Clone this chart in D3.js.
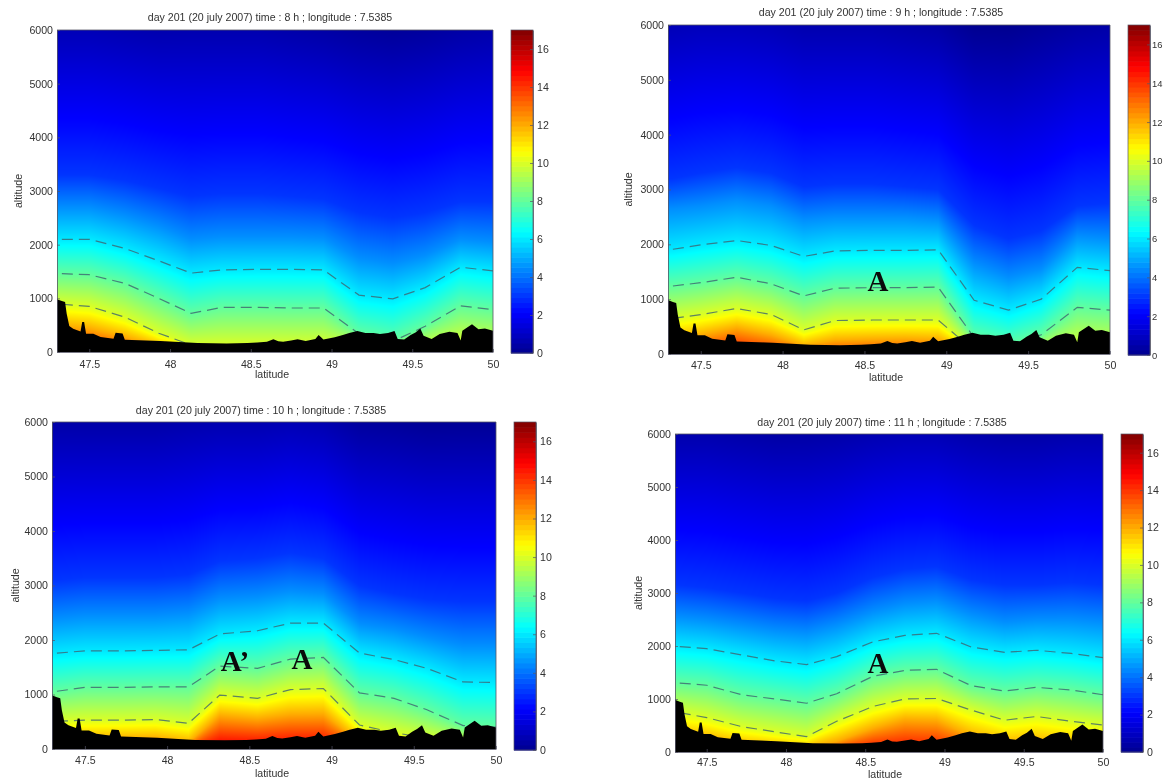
<!DOCTYPE html>
<html><head><meta charset="utf-8">
<script src="https://cdnjs.cloudflare.com/ajax/libs/d3/7.8.5/d3.min.js"></script>
<style>
html,body{margin:0;padding:0;background:#fff;overflow:hidden}
svg{display:block;filter:blur(0.5px)}
text{font-family:"Liberation Sans",Arial,sans-serif;fill:#333}
.note{font-family:"Liberation Serif","Times New Roman",serif;font-weight:bold;fill:#0a0a0a}
</style></head><body>
<div id="chart"></div>
<script>
// Values
const latTicks=[47.5,48,48.5,49,49.5,50];
const altTicks=[0,1000,2000,3000,4000,5000,6000];
const barTicks=[0,2,4,6,8,10,12,14,16];
const isoLevels=[14,12,10,8,6,4.5,3,1];
const contourLevels=[10,8,6];
const latNodes=[47.33,47.5,47.72,47.93,48.13,48.32,48.55,48.75,48.95,49.17,49.38,49.58,49.8,50];

// altitude of each value level at each latitude node
const hour8=[
 [150,100,30,0,0,0,0,0,0,0,0,0,0,0],
 [480,440,280,100,60,60,60,60,60,40,20,40,60,40],
 [890,850,650,350,130,130,130,130,130,100,50,100,150,100],
 [1460,1440,1280,1000,720,830,830,820,820,340,200,480,860,790],
 [2100,2100,1930,1700,1470,1530,1540,1540,1530,1060,990,1200,1580,1510],
 [2700,2700,2550,2350,2100,2150,2150,2150,2120,1750,1650,1800,2100,2050],
 [3300,3300,3200,3050,2900,2950,2950,2900,2850,2600,2500,2600,2800,2800],
 [5700,5700,5600,5500,5500,5500,5500,5400,5300,5100,5000,5100,5300,5400]];
const hour9=[
 [0,50,150,50,0,0,0,0,0,0,0,0,0,0],
 [250,350,480,350,150,250,270,280,260,20,10,20,40,30],
 [650,720,830,720,440,610,620,620,620,60,30,60,120,100],
 [1240,1300,1400,1280,1060,1200,1210,1210,1220,300,150,350,850,800],
 [1910,1990,2070,1980,1780,1880,1890,1890,1900,980,800,1000,1580,1520],
 [2650,2700,2800,2700,2450,2500,2500,2500,2450,1650,1400,1550,2150,2100],
 [3200,3300,3400,3300,3050,3100,3100,3050,3000,2350,2100,2250,2700,2750],
 [5700,5800,5800,5700,5500,5500,5500,5400,5300,4800,4700,4900,5200,5300]];
const hour10=[
 [0,0,0,0,0,250,220,250,250,0,0,0,0,0],
 [150,180,190,200,120,620,560,640,650,130,60,30,20,10],
 [510,530,530,540,470,990,930,1090,1110,440,300,200,100,80],
 [1060,1130,1130,1140,1140,1520,1480,1650,1680,1030,930,720,430,400],
 [1760,1800,1800,1810,1820,2110,2170,2310,2310,1760,1640,1480,1230,1220],
 [2400,2450,2450,2450,2500,2750,2800,2900,2850,2300,2200,2050,1900,1900],
 [3100,3150,3150,3150,3200,3450,3500,3600,3500,3000,2850,2750,2700,2700],
 [5400,5400,5400,5400,5500,5600,5600,5700,5600,5200,5100,5000,5000,5000]];
const hour11=[
 [0,0,0,0,0,30,150,200,180,50,0,0,0,0],
 [300,250,120,90,70,200,450,620,600,300,150,180,120,100],
 [740,650,480,380,290,580,860,1000,1010,790,600,670,580,510],
 [1300,1260,1080,1000,920,1100,1430,1540,1560,1250,1150,1220,1170,1080],
 [1990,1950,1830,1720,1650,1800,2080,2200,2240,1980,1880,1920,1860,1780],
 [2550,2500,2400,2300,2250,2400,2650,2800,2850,2600,2450,2500,2500,2450],
 [3150,3100,3000,2900,2850,3000,3300,3450,3500,3250,3150,3150,3200,3150],
 [5500,5500,5400,5300,5300,5400,5600,5700,5700,5500,5400,5400,5500,5500]];

// black ground silhouette
const groundLat=[47.3,47.303,47.33,47.35,47.36,47.376,47.4,47.446,47.456,47.468,47.48,47.525,47.57,47.65,47.663,47.706,47.72,47.94,48.17,48.35,48.48,48.54,48.6,48.64,48.67,48.7,48.75,48.79,48.84,48.9,48.92,48.95,49.02,49.07,49.11,49.16,49.21,49.26,49.3,49.35,49.39,49.41,49.45,49.49,49.52,49.55,49.57,49.62,49.67,49.73,49.78,49.8,49.81,49.87,49.91,49.95,50];
const groundAlt=[1000,980,950,930,713,484,434,384,558,558,341,341,279,248,360,347,229,205,167,160,167,176,190,238,200,192,215,238,205,243,316,231,274,316,353,389,353,353,334,353,389,243,231,316,365,438,304,243,334,377,353,213,395,517,426,438,395];

const panels=[
 {hour:8,iso:hour8,x0:57,x1:493,y0:352,y1:30,bx0:511,bx1:533,by0:353,by1:30,barFont:10.6,barPad:4,titleCx:270,titleY:21,tickY:368,labelCx:272,labelY:378,labelX:22,notes:[]},
 {hour:9,iso:hour9,x0:668,x1:1110,y0:354,y1:25,bx0:1128,bx1:1150,by0:355,by1:25,barFont:9.4,barPad:2,titleCx:881,titleY:16,tickY:369,labelCx:886,labelY:381,labelX:632,notes:[["A",878,291]]},
 {hour:10,iso:hour10,x0:52,x1:496,y0:749,y1:422,bx0:514,bx1:536,by0:750,by1:422,barFont:10.6,barPad:4,titleCx:261,titleY:414,tickY:764,labelCx:272,labelY:777,labelX:19,notes:[["A’",235,671],["A",302,669]]},
 {hour:11,iso:hour11,x0:675,x1:1103,y0:752,y1:434,bx0:1121,bx1:1143,by0:752,by1:434,barFont:10.6,barPad:4,titleCx:882,titleY:426,tickY:766,labelCx:885,labelY:778,labelX:642,notes:[["A",878,673]]}
];

const jet=d3.scaleLinear()
 .domain([0,.125,.375,.625,.875,1].map(f=>f*17))
 .range(["#00008f","#0000ff","#00ffff","#ffff00","#ff0000","#800000"])
 .interpolate(d3.interpolateRgb).clamp(true);

const svg=d3.select("#chart").append("svg").attr("width",1163).attr("height",779);

function styleAxis(g,font){
 g.selectAll("path,line").attr("stroke","#556");
 g.selectAll("path").attr("stroke-width",.8).attr("fill","none");
 g.selectAll("line").attr("stroke-width",.7);
 g.selectAll("text").attr("font-size",font||10.6).attr("fill","#333");
}

panels.forEach(p=>{
 const x=d3.scaleLinear().domain([47.3,50]).range([p.x0,p.x1]);
 const y=d3.scaleLinear().domain([0,6000]).range([p.y0,p.y1]);
 const g=svg.append("g");
 const w=p.x1-p.x0,h=p.y0-p.y1;

 // heat field raster
 const cv=document.createElement("canvas");cv.width=w;cv.height=h;
 const ctx=cv.getContext("2d");
 const rowScales=p.iso.map(row=>d3.scaleLinear().domain(latNodes).range(row).clamp(true));
 for(let i=0;i<w;i++){
  const lat=x.invert(p.x0+i+.5);
  const alts=rowScales.map(s=>s(lat));
  const prof=d3.scaleLinear().domain(alts).range(isoLevels);
  for(let j=0;j<h;j++){
   ctx.fillStyle=jet(prof(y.invert(p.y1+j+.5)));
   ctx.fillRect(i,j,1,1);
  }
 }
 g.append("image").attr("x",p.x0).attr("y",p.y1).attr("width",w).attr("height",h)
  .attr("href",cv.toDataURL());

 // dashed contours
 contourLevels.forEach(lv=>{
  const row=p.iso[isoLevels.indexOf(lv)];
  g.append("path").datum(row)
   .attr("d",d3.line().x((d,i)=>x(latNodes[i])).y(d=>y(d)))
   .attr("fill","none").attr("stroke","#3f6470").attr("stroke-opacity",.8)
   .attr("stroke-width",1.2).attr("stroke-dasharray","11 6");
 });

 // ground
 g.append("path").datum(groundAlt)
  .attr("d",d3.area().x((d,i)=>x(groundLat[i])).y0(y(0)).y1(d=>y(d)))
  .attr("fill","#000");

 // axes
 const ax=g.append("g").attr("transform",`translate(0,${p.y0})`)
  .call(d3.axisBottom(x).tickValues(latTicks).tickFormat(d3.format("")).tickSizeInner(-3).tickSizeOuter(0));
 ax.selectAll("text").attr("dy",0).attr("y",p.tickY-p.y0);
 styleAxis(ax);
 const ay=g.append("g").attr("transform",`translate(${p.x0},0)`)
  .call(d3.axisLeft(y).tickValues(altTicks).tickFormat(d3.format("d")).tickSizeInner(-3).tickSizeOuter(0).tickPadding(4));
 styleAxis(ay);
 g.append("path").attr("d",`M${p.x0},${p.y1}H${p.x1}V${p.y0}`).attr("fill","none").attr("stroke","#556").attr("stroke-width",.8);

 // colorbar
 const by=d3.scaleLinear().domain([0,17]).range([p.by0,p.by1]);
 const barSteps=d3.range(0,17,17/64);
 g.append("g").selectAll("rect").data(barSteps).join("rect")
  .attr("x",p.bx0).attr("width",p.bx1-p.bx0)
  .attr("y",d=>by(d+17/64)).attr("height",d=>by(d)-by(d+17/64)+.6)
  .attr("fill",d=>jet(d+17/128));
 const ab=g.append("g").attr("transform",`translate(${p.bx1},0)`)
  .call(d3.axisRight(by).tickValues(barTicks).tickFormat(d3.format("d")).tickSizeInner(-3).tickSizeOuter(0).tickPadding(p.barPad));
 styleAxis(ab,p.barFont);
 g.append("rect").attr("x",p.bx0).attr("y",p.by1).attr("width",p.bx1-p.bx0).attr("height",p.by0-p.by1)
  .attr("fill","none").attr("stroke","#556").attr("stroke-width",.7);

 // texts
 g.append("text").attr("x",p.titleCx).attr("y",p.titleY).attr("text-anchor","middle").attr("font-size",10.6)
  .text(`day 201 (20 july 2007) time : ${p.hour} h ; longitude : 7.5385`);
 g.append("text").attr("x",p.labelCx).attr("y",p.labelY).attr("text-anchor","middle").attr("font-size",10.6).text("latitude");
 g.append("text").attr("transform",`translate(${p.labelX},${(p.y0+p.y1)/2}) rotate(-90)`).attr("text-anchor","middle").attr("font-size",10.6).text("altitude");
 p.notes.forEach(n=>{
  g.append("text").attr("class","note").attr("x",n[1]).attr("y",n[2]).attr("text-anchor","middle").attr("font-size",29).text(n[0]);
 });
});
</script>
</body></html>
